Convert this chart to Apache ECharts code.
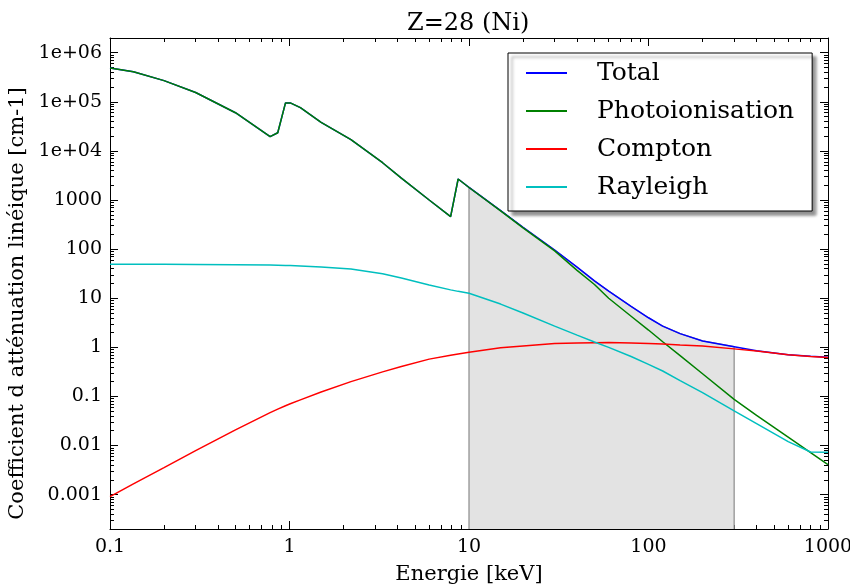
<!DOCTYPE html>
<html>
<head>
<meta charset="utf-8">
<script src="https://cdn.jsdelivr.net/npm/echarts@6/dist/echarts.min.js"></script>
<style>
  html, body { margin: 0; padding: 0; background: #fff; }
  #chart { width: 850px; height: 585px; }
</style>
</head>
<body>
<div id="chart"></div>
<script>
// energies in keV
const energy = [0.1, 0.135, 0.2, 0.3, 0.5, 0.78, 0.86, 0.95, 1.01, 1.15, 1.5, 2.2, 3.3, 4.2, 6, 7.9, 8.7,
  10, 15, 20, 30, 40, 50, 60, 80, 100, 120, 150, 200, 300, 400, 600, 800, 1000]

// coefficients in cm-1
const total = [490000, 410000, 270000, 155000, 60000, 19500, 23500, 95000, 95000, 76000, 38000, 17000,
  5750, 2800, 1000, 460, 2680, 1815, 610, 278, 96, 43, 22.5, 14, 6.8, 4.0, 2.7, 1.9, 1.35, 1.03, 0.85,
  0.71, 0.66, 0.63]
const photo = [490000, 410000, 270000, 155000, 60000, 19500, 23500, 95000, 95000, 76000, 38000, 17000,
  5750, 2800, 1000, 460, 2680, 1800, 600, 270, 92, 37, 19, 10, 4.3, 2.25, 1.3, 0.68, 0.29, 0.087, 0.041,
  0.0148, 0.0072, 0.0041]
const compton = [0.00091, 0.00166, 0.00355, 0.0079, 0.0209, 0.0468, 0.055, 0.0646, 0.0708, 0.085, 0.123,
  0.2, 0.316, 0.407, 0.575, 0.69, 0.73, 0.79, 0.98, 1.07, 1.19, 1.23, 1.245, 1.25, 1.23, 1.2, 1.17, 1.12,
  1.06, 0.93, 0.84, 0.71, 0.65, 0.62]
const rayleigh = [49, 49, 49, 48.8, 48.3, 47.4, 47, 46.6, 46.2, 45.4, 43.5, 39.5, 31.5, 25.7, 18.6, 14.8,
  13.8, 12.6, 7.6, 5.0, 2.7, 1.77, 1.28, 1.0, 0.65, 0.45, 0.33, 0.21, 0.12, 0.051, 0.028, 0.012, 0.0074,
  0.0073]

// shaded band
const bandFrom = 10
const bandTo = 300

const xTickLabels = ['0.1', '1', '10', '100', '1000']
const yTickLabels = ['0.001', '0.01', '0.1', '1', '10', '100', '1000', '1e+04', '1e+05', '1e+06']

const font = 'DejaVu Serif'
const yMin = -3.7
const yMax = 6.3
const xMajor = [-1, 0, 1, 2, 3]
const yMajor = [-3, -2, -1, 0, 1, 2, 3, 4, 5, 6]

// minor ticks at 2..9 of each decade
function minorTicks (lo, hi) {
  const out = []
  for (let n = Math.floor(lo); n <= Math.ceil(hi); n++) {
    for (let k = 2; k <= 9; k++) {
      const v = n + Math.log10(k)
      if (v > lo && v < hi) out.push(v)
    }
  }
  return out
}
const xMinor = minorTicks(-1, 3)
const yMinor = minorTicks(yMin, yMax)

const toPoints = vals => energy.map((e, i) => [Math.log10(e), Math.log10(vals[i])])

// band polygon under the total curve
const bandPts = [[Math.log10(bandFrom), yMin]]
energy.forEach((e, i) => {
  if (e >= bandFrom && e <= bandTo) bandPts.push([Math.log10(e), Math.log10(total[i])])
})
bandPts.push([Math.log10(bandTo), yMin])

const myChart = echarts.init(document.getElementById('chart'))

function xAx (pos, major) {
  return {
    type: 'value',
    position: pos,
    min: -1,
    max: 3,
    axisLine: { show: major, onZero: false, lineStyle: { color: '#000', width: 1 } },
    axisTick: { inside: true, length: major ? 8 : 4, customValues: major ? xMajor : xMinor, lineStyle: { color: '#000' } },
    axisLabel: {
      show: major && pos === 'bottom',
      customValues: xMajor,
      formatter: v => xTickLabels[xMajor.indexOf(Math.round(v))],
      color: '#000',
      fontFamily: font,
      fontSize: 19,
      margin: 9
    },
    splitLine: { show: false }
  }
}
function yAx (pos, major) {
  return {
    type: 'value',
    position: pos,
    min: yMin,
    max: yMax,
    axisLine: { show: major, onZero: false, lineStyle: { color: '#000', width: 1 } },
    axisTick: { inside: true, length: major ? 8 : 4, customValues: major ? yMajor : yMinor, lineStyle: { color: '#000' } },
    axisLabel: {
      show: major && pos === 'left',
      customValues: yMajor,
      formatter: v => yTickLabels[yMajor.indexOf(Math.round(v))],
      color: '#000',
      fontFamily: font,
      fontSize: 19,
      margin: 8
    },
    splitLine: { show: false }
  }
}

const xAxes = [xAx('bottom', true), xAx('bottom', false), xAx('top', true), xAx('top', false)]
xAxes[0].name = 'Energie [keV]'
xAxes[0].nameLocation = 'middle'
xAxes[0].nameGap = 35
xAxes[0].nameTextStyle = { color: '#000', fontFamily: font, fontSize: 21 }

const yAxes = [yAx('left', true), yAx('left', false), yAx('right', true), yAx('right', false)]
yAxes[0].name = 'Coefficient d atténuation linéique [cm-1]'
yAxes[0].nameLocation = 'middle'
yAxes[0].nameGap = 69
yAxes[0].nameTextStyle = { color: '#000', fontFamily: font, fontSize: 21, padding: [0, 40, 0, 0] }

function lineSeries (name, vals, color) {
  return {
    name: name,
    type: 'line',
    data: toPoints(vals),
    showSymbol: false,
    symbol: 'none',
    color: color,
    lineStyle: { color: color, width: 1.5 },
    silent: true
  }
}

const option = {
  animation: false,
  title: {
    text: 'Z=28 (Ni)',
    left: 407,
    top: 12,
    padding: 0,
    textStyle: { color: '#000', fontFamily: font, fontSize: 24, fontWeight: 'normal' }
  },
  grid: { left: 110, right: 22, top: 38, bottom: 56, outerBoundsMode: 'none' },
  legend: {
    data: ['Total', 'Photoionisation', 'Compton', 'Rayleigh'],
    orient: 'vertical',
    left: 508,
    top: 53,
    padding: [6, 18, 10, 18],
    itemGap: 10,
    itemWidth: 41,
    itemHeight: 2,
    icon: 'rect',
    selectedMode: false,
    backgroundColor: '#fff',
    borderColor: '#000',
    borderWidth: 1,
    shadowColor: 'rgba(0,0,0,0.45)',
    shadowBlur: 3,
    shadowOffsetX: 4,
    shadowOffsetY: 4,
    textStyle: { color: '#000', fontFamily: font, fontSize: 25, lineHeight: 28, padding: [0, 0, 0, 25] }
  },
  xAxis: xAxes,
  yAxis: yAxes,
  series: [
    {
      name: 'band',
      type: 'line',
      data: bandPts,
      showSymbol: false,
      symbol: 'none',
      silent: true,
      lineStyle: { color: '#8a8a8a', width: 1.2 },
      areaStyle: { color: '#e3e3e3', opacity: 1, origin: 'start' }
    },
    lineSeries('Total', total, '#0000ff'),
    lineSeries('Photoionisation', photo, '#008000'),
    lineSeries('Compton', compton, '#ff0000'),
    lineSeries('Rayleigh', rayleigh, '#00bfbf')
  ]
}

myChart.setOption(option)
window.addEventListener('resize', () => {
  myChart.resize()
})
</script>
</body>
</html>
